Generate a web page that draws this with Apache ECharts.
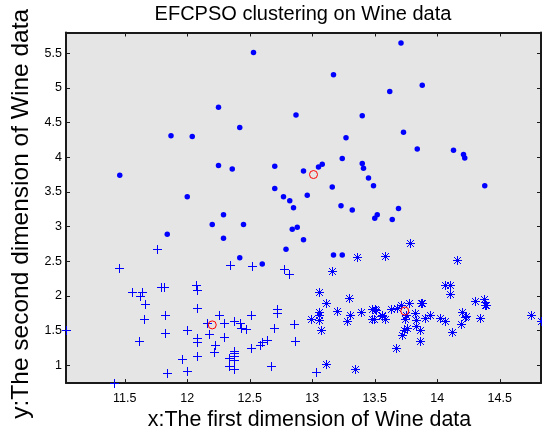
<!DOCTYPE html>
<html>
<head>
<meta charset="utf-8">
<script src="https://cdn.jsdelivr.net/npm/echarts@6/dist/echarts.min.js"></script>
<style>
html,body{margin:0;padding:0;background:#fff;}
#chart{width:542px;height:436px;}
</style>
</head>
<body>
<div id="chart"></div>
<script>
// ---- data ----
const xRange = [11.03, 14.83];
const yRange = [0.74, 5.80];
const xTicks = [11.5, 12, 12.5, 13, 13.5, 14, 14.5];
const yTicks = [1, 1.5, 2, 2.5, 3, 3.5, 4, 4.5, 5, 5.5];

// cluster drawn with filled dots
const dotPoints = [
  [13.24,2.59],[13.64,3.1],[12.93,3.8],[14.22,3.99],[13.41,3.84],[13.24,3.98],[14.21,4.04],[14.38,3.59],
  [11.84,2.89],[12.7,3.87],[13.05,3.86],[12.29,2.83],[12.29,3.17],[12.42,2.55],[11.46,3.74],[12.77,3.43],
  [12.0,3.43],[12.42,4.43],[11.87,4.31],[12.04,4.3],
  [12.88,2.99],[12.7,3.55],[12.6,2.46],[12.25,4.72],[12.53,5.51],[13.49,3.59],[12.84,2.96],[12.93,2.81],
  [13.52,3.17],[13.62,4.95],[12.25,3.88],[13.16,3.57],[13.88,5.04],[12.87,4.61],[13.32,3.24],[13.08,3.9],
  [13.5,3.12],[12.79,2.67],[13.23,3.3],[13.17,5.19],[13.84,4.12],[12.45,3.03],[12.36,3.83],[13.69,3.26],
  [12.85,3.27],[12.96,3.45],[13.73,4.36],[13.45,3.7],[12.82,3.37],[13.4,4.6],[12.2,3.03],[13.71,5.65],
  [13.4,3.91],[13.27,4.28],[13.17,2.59],[14.13,4.1]
];

// cluster drawn with plus signs
const plusPoints = [
  [12.37,0.94],[12.33,1.1],[12.64,1.36],[12.37,1.13],[12.17,1.45],[12.37,1.21],[12.37,1.17],[12.21,1.19],
  [12.29,1.61],[11.96,1.09],[11.66,1.88],[13.03,0.9],[12.33,0.99],[12.0,0.92],[12.72,1.81],[12.08,1.13],
  [11.84,0.89],[12.67,0.98],[12.16,1.61],[11.65,1.67],[11.64,2.06],[12.08,1.33],[12.08,1.83],[12.0,1.51],
  [12.69,1.53],[11.62,1.99],[12.47,1.52],[11.81,2.12],[12.29,1.41],[12.37,1.07],[12.08,2.08],[12.6,1.34],
  [12.34,2.45],[11.82,1.72],[12.51,1.73],[12.25,1.73],[12.72,1.75],[12.22,1.29],[11.61,1.35],[12.52,2.43],
  [11.76,2.68],[11.41,0.74],[12.08,1.39],[11.03,1.51],[11.82,1.47],[12.42,1.61],[11.45,2.4],[11.56,2.05],
  [12.07,2.16],[12.43,1.53],[11.79,2.13],[12.37,1.63],
  [12.85,1.6],[12.86,1.35],[12.81,2.31],[12.51,1.24],[12.58,1.29],[12.77,2.39]
];

// cluster drawn with asterisks
const starPoints = [
  [14.23,1.71],[13.2,1.78],[13.16,2.36],[14.37,1.95],[14.2,1.76],[14.39,1.87],[14.06,2.15],[14.83,1.64],
  [13.86,1.35],[14.1,2.16],[14.12,1.48],[13.75,1.73],[14.75,1.73],[14.38,1.87],[13.63,1.81],[14.3,1.92],
  [13.83,1.57],[14.19,1.59],[14.06,1.63],[13.71,1.86],[13.5,1.81],[13.05,2.05],[13.39,1.77],[13.3,1.72],
  [13.87,1.9],[14.02,1.68],[13.73,1.5],[13.58,1.66],[13.68,1.83],[13.76,1.53],[13.51,1.8],[13.48,1.81],
  [13.28,1.64],[13.05,1.65],[13.07,1.5],[13.56,1.71],[13.88,1.89],[13.05,1.77],[13.9,1.68],[14.1,2.02],
  [13.94,1.73],[13.05,1.73],[13.83,1.65],[13.82,1.75],[13.77,1.9],[13.74,1.67],[13.56,1.73],[14.22,1.7],
  [13.29,1.97],[13.72,1.43],
  [13.67,1.25],[13.11,1.01],[13.34,0.94],[13.86,1.51],[13.49,1.66],[12.99,1.67],
  [13.36,2.56],[13.11,1.9],[14.34,1.68],[13.48,1.67],[13.78,2.76],[13.58,2.58],[14.16,2.51]
];

// cluster centres (red circles)
const centers = [[13.01,3.75],[12.2,1.58],[13.74,1.78]];

const titleText = 'EFCPSO clustering on Wine data';
const xName = 'x:The first dimension of Wine data';
const yName = 'y:The second dimension of Wine data';

// ---- chart ----
const FONT = '"Liberation Sans", Arial, Helvetica, sans-serif';
const BLUE = '#0000ff';
const AXC = '#1a1a1a';

const chart = echarts.init(document.getElementById('chart'), null, {renderer: 'canvas'});

function axisCommon(extra) {
  return Object.assign({
    type: 'value',
    splitLine: {show: false},
    axisLine: {show: true, onZero: false, lineStyle: {color: AXC, width: 2}},
    axisLabel: {show: false},
    silent: true
  }, extra);
}
function ticks(vals) {
  return {show: true, inside: true, length: 4, customValues: vals, lineStyle: {color: AXC, width: 1}};
}

// marker drawn with the axis scales (api.coord), snapped to the pixel grid
function markerRenderer(kind) {
  return function (params, api) {
    const p = api.coord([api.value(0), api.value(1)]);
    const x = Math.round(p[0]) + 0.5, y = Math.round(p[1]) + 0.5;
    const h = 4.5, d = 3.5;
    let path = 'M' + (x - h) + ',' + y + 'L' + (x + h) + ',' + y +
               'M' + x + ',' + (y - h) + 'L' + x + ',' + (y + h);
    if (kind === 'star') {
      path += 'M' + (x - d) + ',' + (y - d) + 'L' + (x + d) + ',' + (y + d) +
              'M' + (x - d) + ',' + (y + d) + 'L' + (x + d) + ',' + (y - d);
    }
    return {
      type: 'path',
      shape: {pathData: path},
      style: {fill: null, stroke: BLUE, lineWidth: 1}
    };
  };
}

chart.setOption({
  animation: false,
  backgroundColor: '#ffffff',
  title: {
    text: titleText,
    left: 303,
    top: 4,
    textAlign: 'center',
    padding: 0,
    textStyle: {fontFamily: FONT, fontSize: 20, fontWeight: 'normal', color: '#000'}
  },
  grid: {
    left: 66, right: 1, top: 32.5, bottom: 50,
    show: true, backgroundColor: '#e5e5e5', borderWidth: 0
  },
  xAxis: [
    axisCommon({
      position: 'bottom', min: xRange[0], max: xRange[1], splitNumber: 8,
      axisTick: ticks(xTicks),
      axisLabel: {show: true, customValues: xTicks, margin: 9, fontFamily: FONT, fontSize: 12.5, color: '#000'},
      name: xName, nameLocation: 'middle', nameGap: 23,
      nameTextStyle: {fontFamily: FONT, fontSize: 21.4, color: '#000', padding: [0, 0, 0, 12]}
    }),
    axisCommon({
      position: 'top', min: xRange[0], max: xRange[1], splitNumber: 8,
      axisTick: ticks(xTicks)
    })
  ],
  yAxis: [
    axisCommon({
      position: 'left', min: yRange[0], max: yRange[1], splitNumber: 10,
      axisTick: ticks(yTicks),
      axisLabel: {show: true, customValues: yTicks, margin: 4, fontFamily: FONT, fontSize: 12.5, color: '#000'},
      name: yName, nameLocation: 'middle', nameGap: 28,
      nameTextStyle: {fontFamily: FONT, fontSize: 24.5, color: '#000', padding: [0, 12, 0, 0]}
    }),
    axisCommon({
      position: 'right', min: yRange[0], max: yRange[1], splitNumber: 10,
      axisTick: ticks(yTicks)
    })
  ],
  series: [
    {
      type: 'scatter', xAxisIndex: 0, yAxisIndex: 0, data: dotPoints,
      symbol: 'circle', symbolSize: 5.5, silent: true,
      itemStyle: {color: BLUE, borderWidth: 0, opacity: 1}
    },
    {
      type: 'custom', xAxisIndex: 0, yAxisIndex: 0, data: plusPoints,
      encode: {x: 0, y: 1}, silent: true, clip: false,
      renderItem: markerRenderer('plus')
    },
    {
      type: 'custom', xAxisIndex: 0, yAxisIndex: 0, data: starPoints,
      encode: {x: 0, y: 1}, silent: true, clip: false,
      renderItem: markerRenderer('star')
    },
    {
      type: 'scatter', xAxisIndex: 0, yAxisIndex: 0, data: centers,
      symbol: 'circle', symbolSize: 8, silent: true, z: 5,
      itemStyle: {color: 'rgba(0,0,0,0)', borderColor: '#ff0000', borderWidth: 1, opacity: 1}
    }
  ]
});
</script>
</body>
</html>
